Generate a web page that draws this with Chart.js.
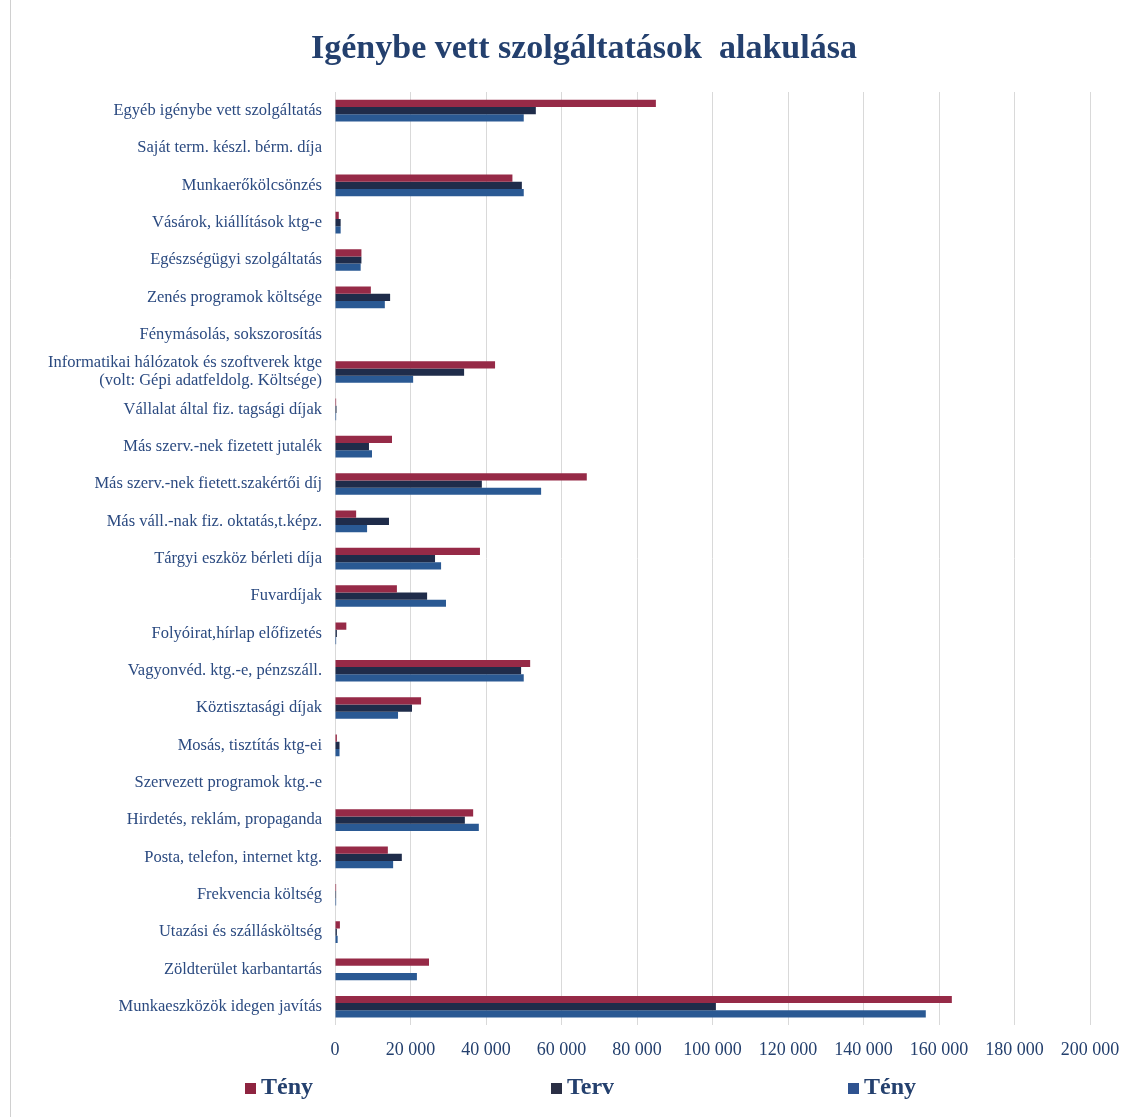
<!DOCTYPE html>
<html lang="hu">
<head>
<meta charset="utf-8">
<title>Igénybe vett szolgáltatások alakulása</title>
<script src="https://cdn.jsdelivr.net/npm/chart.js@4"></script>
<style>
  html, body { margin: 0; padding: 0; background: #fff; }
  #wrap { position: relative; width: 1141px; height: 1117px; }
</style>
</head>
<body>
<div id="wrap"><canvas id="szolgChart"></canvas></div>
<script>
const categories = [
  'Egyéb igénybe vett szolgáltatás',
  'Saját term. készl. bérm. díja',
  'Munkaerőkölcsönzés',
  'Vásárok, kiállítások ktg-e',
  'Egészségügyi szolgáltatás',
  'Zenés programok költsége',
  'Fénymásolás, sokszorosítás',
  ['Informatikai hálózatok és szoftverek ktge', '(volt: Gépi adatfeldolg. Költsége)'],
  'Vállalat által fiz. tagsági díjak',
  'Más szerv.-nek fizetett jutalék',
  'Más szerv.-nek fietett.szakértői díj',
  'Más váll.-nak fiz. oktatás,t.képz.',
  'Tárgyi eszköz bérleti díja',
  'Fuvardíjak',
  'Folyóirat,hírlap előfizetés',
  'Vagyonvéd. ktg.-e, pénzszáll.',
  'Köztisztasági díjak',
  'Mosás, tisztítás ktg-ei',
  'Szervezett programok ktg.-e',
  'Hirdetés, reklám, propaganda',
  'Posta, telefon, internet ktg.',
  'Frekvencia költség',
  'Utazási és szállásköltség',
  'Zöldterület karbantartás',
  'Munkaeszközök idegen javítás'
];

const tenyElozo = [85000, 0, 47000, 1000, 7000, 9500, 0, 42400, 300, 15100, 66700, 5600, 38400, 16400, 3000, 51700, 22800, 500, 0, 36600, 14000, 300, 1300, 24900, 163400];
const terv = [53200, 0, 49500, 1500, 7000, 14600, 0, 34200, 400, 9000, 38900, 14300, 26500, 24400, 500, 49300, 20400, 1200, 0, 34400, 17700, 300, 500, 0, 100900];
const tenyAktualis = [50000, 0, 50000, 1500, 6800, 13200, 0, 20700, 300, 9800, 54600, 8500, 28100, 29400, 300, 50000, 16700, 1200, 0, 38100, 15400, 300, 700, 21700, 156500];

const seriesNames = ['Tény', 'Terv', 'Tény'];
const xTicks = [0, 20000, 40000, 60000, 80000, 100000, 120000, 140000, 160000, 180000, 200000];
const chartTitle = 'Igénybe vett szolgáltatások  alakulása';

const colors = ['#962a47', '#1f2c4a', '#2a5993'];
const legendColors = ['#8e2440', '#2a2f45', '#2f5390'];
const textColor = '#24406e';

// szám formázás szóközzel (20 000)
function formatNum(v) {
  return String(v).replace(/\B(?=(\d{3})+(?!\d))/g, ' ');
}

// cím + jelmagyarázat saját rajzolással, az eredeti elhelyezés szerint
const extras = {
  id: 'extras',
  beforeDraw(chart) {
    const ctx = chart.ctx;
    ctx.save();
    ctx.strokeStyle = '#d0d0d0';
    ctx.lineWidth = 1;
    ctx.beginPath();
    ctx.moveTo(10.5, 0);
    ctx.lineTo(10.5, chart.height);
    ctx.stroke();
    ctx.restore();
  },
  afterDraw(chart) {
    const ctx = chart.ctx;
    ctx.save();
    ctx.fillStyle = textColor;
    ctx.font = 'bold 34px "Liberation Serif"';
    ctx.textAlign = 'center';
    ctx.textBaseline = 'middle';
    ctx.fillText(chartTitle, 584, 49);

    const xs = [245, 551, 848];
    const y = 1088;
    ctx.font = 'bold 24px "Liberation Serif"';
    ctx.textAlign = 'left';
    chart.data.datasets.forEach((ds, i) => {
      ctx.fillStyle = legendColors[i];
      ctx.fillRect(xs[i], y - 5, 11, 11);
      ctx.fillStyle = textColor;
      ctx.fillText(ds.label, xs[i] + 16, y);
    });
    ctx.restore();
  }
};

const ctx = document.getElementById('szolgChart').getContext('2d');

new Chart(ctx, {
  type: 'bar',
  data: {
    labels: categories,
    datasets: [
      { label: seriesNames[0], data: tenyElozo, backgroundColor: colors[0] },
      { label: seriesNames[1], data: terv, backgroundColor: colors[1] },
      { label: seriesNames[2], data: tenyAktualis, backgroundColor: colors[2] }
    ]
  },
  options: {
    indexAxis: 'y',
    responsive: true,
    maintainAspectRatio: false,
    animation: false,
    layout: { padding: { left: 10, right: 51, top: 92, bottom: 42 } },
    datasets: {
      bar: { categoryPercentage: 0.58, barPercentage: 1.0 }
    },
    plugins: {
      legend: { display: false },
      tooltip: { enabled: false },
      title: { display: false }
    },
    scales: {
      x: {
        min: 0,
        max: 200000,
        afterBuildTicks: axis => { axis.ticks = xTicks.map(v => ({ value: v })); },
        ticks: {
          color: textColor,
          font: { family: 'Liberation Serif', size: 18 },
          padding: 14,
          maxRotation: 0,
          callback: v => formatNum(v)
        },
        grid: { color: '#d9d9d9', lineWidth: 1, drawTicks: false },
        border: { display: false }
      },
      y: {
        afterFit: scale => { scale.width = 325; },
        ticks: {
          autoSkip: false,
          color: '#2b4a80',
          font: { family: 'Liberation Serif', size: 16.5, lineHeight: 1.1 },
          padding: 5
        },
        grid: { display: false },
        border: { display: false }
      }
    }
  },
  plugins: [extras]
});
</script>
</body>
</html>
